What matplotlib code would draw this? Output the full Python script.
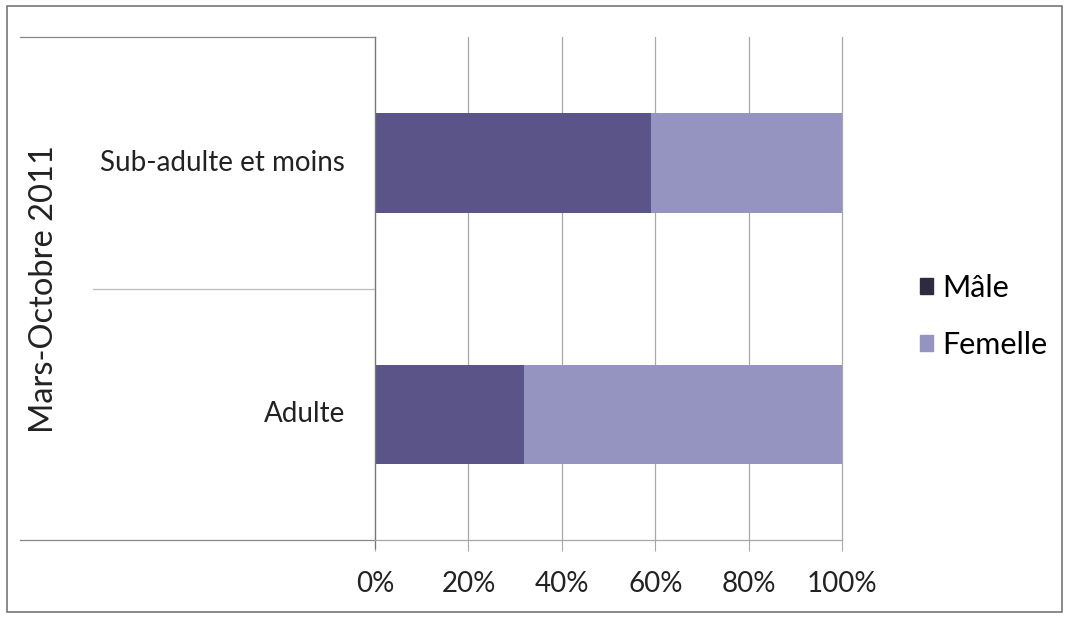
import matplotlib.pyplot as plt
from matplotlib.patches import Patch, Rectangle
from matplotlib.lines import Line2D

categories = ['Adulte', 'Sub-adulte et moins']
male = [32, 59]
female = [68, 41]
group_label = 'Mars-Octobre 2011'
ticks = [0, 20, 40, 60, 80, 100]

male_color = '#5a5489'
female_color = '#9593c0'
grid_color = '#a8a8a8'

plt.rcParams['font.family'] = ['Lato', 'DejaVu Sans']

fig = plt.figure(figsize=(10.67, 6.18), dpi=100)
ax = fig.add_axes([0.3515, 0.126, 0.4377, 0.814])

ypos = list(range(len(categories)))
ax.barh(ypos, male, height=0.395, color=male_color, label='Mâle')
ax.barh(ypos, female, left=male, height=0.395, color=female_color,
        label='Femelle')

ax.set_xlim(0, 100)
ax.set_ylim(-0.5, 1.5)
ax.set_xticks(ticks)
ax.set_xticklabels([f'{t}%' for t in ticks], fontsize=20, color='#222222')
ax.set_yticks([])
ax.tick_params(axis='x', length=8, width=0.8, color=grid_color, pad=14)
ax.xaxis.grid(True, color=grid_color, linewidth=0.9)
for gl in ax.get_xgridlines():
    gl.set_clip_on(False)
ax.set_axisbelow(True)

for s in ['top', 'right']:
    ax.spines[s].set_visible(False)
ax.spines['left'].set_color('#777777')
ax.spines['left'].set_linewidth(0.9)
ax.spines['bottom'].set_color(grid_color)
ax.spines['bottom'].set_linewidth(0.9)

# multi-level category axis drawn to the left of the plot
trans = ax.get_yaxis_transform()
x0 = (20 - 375) / 467
x1 = (93 - 375) / 467
ax.add_line(Line2D([x0, 0], [1.5, 1.5], transform=trans, color='#888888',
                   linewidth=0.9, clip_on=False))
ax.add_line(Line2D([x1, 0], [0.5, 0.5], transform=trans, color='#bbbbbb',
                   linewidth=0.9, clip_on=False))
ax.add_line(Line2D([x0, 0], [-0.5, -0.5], transform=trans, color='#888888',
                   linewidth=0.9, clip_on=False))
ax.add_line(Line2D([0, 0], [-0.5, -0.53], transform=trans, color='#777777',
                   linewidth=0.9, clip_on=False))

for y, name in zip(ypos, categories):
    ax.text(-30 / 467, y, name, transform=trans, ha='right', va='center',
            fontsize=20, color='#222222')
ax.text((44 - 375) / 467, 0.5, group_label, transform=trans, rotation=90,
        ha='center', va='center', fontsize=23.5, color='#222222')

handles = [Patch(color='#2e2b40', label='Mâle'),
           Patch(color=female_color, label='Femelle')]
fig.legend(handles=handles, loc='center left', bbox_to_anchor=(0.836, 0.488),
           frameon=False, fontsize=22, handlelength=0.45, handleheight=0.45,
           handletextpad=0.3, labelspacing=0.95)

# outer chart border
fig.add_artist(Rectangle((7 / 1067, 6 / 618), 1055 / 1067, 606 / 618,
                         transform=fig.transFigure, fill=False,
                         edgecolor='#777777', linewidth=1.2))

fig.savefig('out.png', dpi=100)
